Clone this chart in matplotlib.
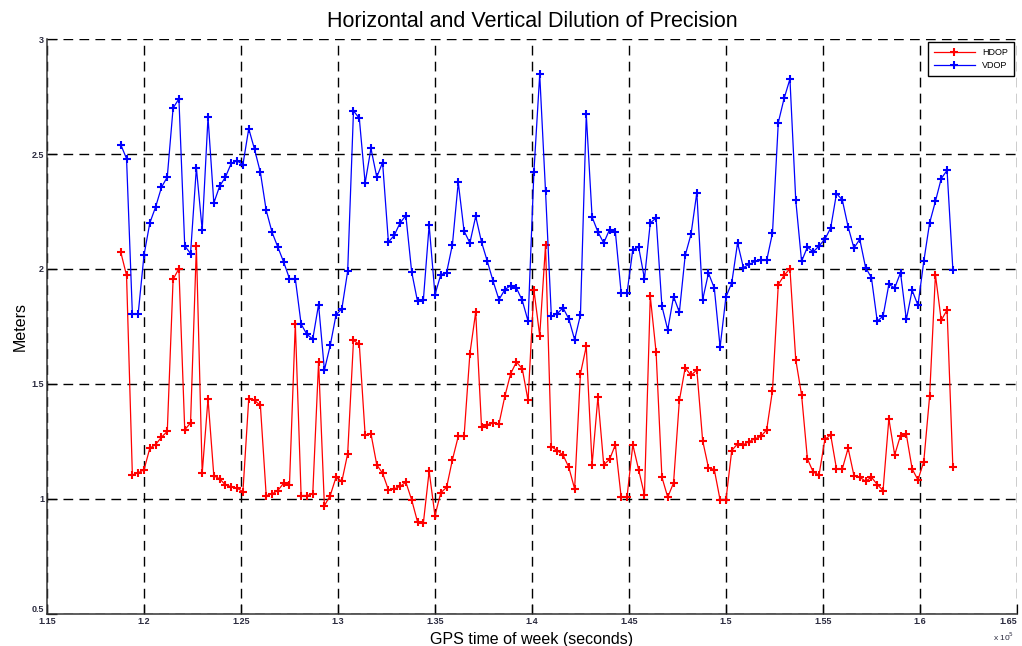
import matplotlib
matplotlib.use("Agg")
import matplotlib.pyplot as plt

plt.rcParams["font.family"] = ["Liberation Sans", "DejaVu Sans"]

# GPS time of week (s), one fix every 5 minutes
gps_time = [
    118800, 119100, 119400, 119700, 120000, 120300, 120600, 120900, 121200, 121500,
    121800, 122100, 122400, 122700, 123000, 123300, 123600, 123900, 124200, 124500,
    124800, 125100, 125400, 125700, 126000, 126300, 126600, 126900, 127200, 127500,
    127800, 128100, 128400, 128700, 129000, 129300, 129600, 129900, 130200, 130500,
    130800, 131100, 131400, 131700, 132000, 132300, 132600, 132900, 133200, 133500,
    133800, 134100, 134400, 134700, 135000, 135300, 135600, 135900, 136200, 136500,
    136800, 137100, 137400, 137700, 138000, 138300, 138600, 138900, 139200, 139500,
    139800, 140100, 140400, 140700, 141000, 141300, 141600, 141900, 142200, 142500,
    142800, 143100, 143400, 143700, 144000, 144300, 144600, 144900, 145200, 145500,
    145800, 146100, 146400, 146700, 147000, 147300, 147600, 147900, 148200, 148500,
    148800, 149100, 149400, 149700, 150000, 150300, 150600, 150900, 151200, 151500,
    151800, 152100, 152400, 152700, 153000, 153300, 153600, 153900, 154200, 154500,
    154800, 155100, 155400, 155700, 156000, 156300, 156600, 156900, 157200, 157500,
    157800, 158100, 158400, 158700, 159000, 159300, 159600, 159900, 160200, 160500,
    160800, 161100, 161400, 161700,
]

hdop = [
    2.074, 1.972, 1.104, 1.113, 1.126, 1.22, 1.236, 1.268, 1.293, 1.955,
    2.001, 1.30, 1.33, 2.098, 1.111, 1.435, 1.10, 1.087, 1.06, 1.053,
    1.046, 1.031, 1.435, 1.428, 1.406, 1.014, 1.021, 1.036, 1.068, 1.062,
    1.762, 1.014, 1.014, 1.021, 1.595, 0.97, 1.014, 1.094, 1.076, 1.196,
    1.689, 1.672, 1.278, 1.283, 1.148, 1.111, 1.039, 1.043, 1.054, 1.072,
    0.995, 0.90, 0.893, 1.12, 0.927, 1.026, 1.05, 1.17, 1.271, 1.271,
    1.631, 1.812, 1.314, 1.323, 1.329, 1.326, 1.445, 1.544, 1.595, 1.566,
    1.428, 1.91, 1.71, 2.103, 1.227, 1.21, 1.191, 1.137, 1.043, 1.544,
    1.663, 1.148, 1.442, 1.148, 1.171, 1.235, 1.007, 1.007, 1.235, 1.126,
    1.017, 1.881, 1.638, 1.094, 1.007, 1.069, 1.428, 1.57, 1.537, 1.561,
    1.253, 1.135, 1.127, 0.995, 0.995, 1.21, 1.239, 1.235, 1.249, 1.261,
    1.271, 1.30, 1.471, 1.932, 1.972, 2.001, 1.605, 1.452, 1.174, 1.116,
    1.104, 1.258, 1.278, 1.13, 1.13, 1.22, 1.101, 1.094, 1.076, 1.094,
    1.062, 1.036, 1.348, 1.191, 1.275, 1.28, 1.13, 1.082, 1.162, 1.445,
    1.975, 1.776, 1.822, 1.137,
]

vdop = [
    2.541, 2.48, 1.805, 1.805, 2.06, 2.20, 2.27, 2.355, 2.40, 2.70,
    2.74, 2.10, 2.067, 2.44, 2.17, 2.66, 2.287, 2.36, 2.40, 2.46,
    2.47, 2.454, 2.61, 2.52, 2.42, 2.255, 2.16, 2.095, 2.03, 1.958,
    1.958, 1.76, 1.715, 1.695, 1.845, 1.56, 1.667, 1.80, 1.827, 1.99,
    2.688, 2.655, 2.374, 2.524, 2.40, 2.463, 2.117, 2.146, 2.20, 2.232,
    1.987, 1.859, 1.863, 2.19, 1.888, 1.975, 1.984, 2.106, 2.377, 2.165,
    2.113, 2.229, 2.117, 2.033, 1.946, 1.866, 1.91, 1.927, 1.917, 1.863,
    1.773, 2.42, 2.846, 2.338, 1.794, 1.805, 1.831, 1.783, 1.692, 1.80,
    2.672, 2.226, 2.161, 2.113, 2.171, 2.161, 1.895, 1.895, 2.084, 2.095,
    1.958, 2.20, 2.222, 1.838, 1.735, 1.88, 1.812, 2.059, 2.151, 2.332,
    1.866, 1.982, 1.917, 1.66, 1.878, 1.939, 2.113, 2.006, 2.02, 2.033,
    2.037, 2.037, 2.156, 2.637, 2.742, 2.826, 2.299, 2.033, 2.095, 2.074,
    2.10, 2.129, 2.178, 2.328, 2.30, 2.183, 2.091, 2.129, 2.006, 1.962,
    1.773, 1.794, 1.933, 1.917, 1.984, 1.78, 1.907, 1.842, 2.033, 2.20,
    2.294, 2.393, 2.429, 1.997,
]

x_ticks = [115000, 120000, 125000, 130000, 135000, 140000, 145000,
           150000, 155000, 160000, 165000]
x_tick_labels = ["1.15", "1.2", "1.25", "1.3", "1.35", "1.4", "1.45",
                 "1.5", "1.55", "1.6", "1.65"]
y_ticks = [0.5, 1, 1.5, 2, 2.5, 3]
y_tick_labels = ["0.5", "1", "1.5", "2", "2.5", "3"]

fig = plt.figure(figsize=(10.22, 6.46), dpi=100)
ax = fig.add_axes([0.046, 0.05, 0.949, 0.8895])

ax.plot(gps_time, hdop, color="#ff0000", lw=0.9, marker="+", ms=5.5, mew=1.5,
        label="HDOP")
ax.plot(gps_time, vdop, color="#0000ff", lw=0.9, marker="+", ms=5.5, mew=1.5,
        label="VDOP")

ax.set_xlim(115000, 165000)
ax.set_ylim(0.5, 3)
ax.set_xticks(x_ticks)
ax.set_xticklabels(x_tick_labels)
ax.set_yticks(y_ticks)
ax.set_yticklabels(y_tick_labels)
ax.tick_params(direction="in", length=7, width=0.9, labelsize=6.5,
               labelcolor="#2b2b3f")
ax.tick_params(axis="x", pad=2.5)
ax.tick_params(axis="y", pad=2)
# last x label sits on the figure edge, as in the original
ax.get_xticklabels()[-1].set_horizontalalignment("right")
# the 0.5 label sits just above the corner so it clears 1.15
ax.get_yticklabels()[0].set_verticalalignment("bottom")
for lab in ax.get_xticklabels() + ax.get_yticklabels():
    lab.set_fontweight("bold")

ax.grid(True, color="black", linestyle=(0, (7, 4.5)), lw=1.0)
ax.set_axisbelow(True)
for s in ["top", "right"]:
    ax.spines[s].set_visible(False)
for s in ["left", "bottom"]:
    ax.spines[s].set_linewidth(1.1)
    ax.spines[s].set_color("#333333")

ax.set_title("Horizontal and Vertical Dilution of Precision", fontsize=15.5, pad=9)
ax.set_xlabel("GPS time of week (seconds)", fontsize=11.5, labelpad=4)
ax.set_ylabel("Meters", fontsize=11.5, labelpad=3)
fig.text(0.972, 0.007, r"x 10$^5$", fontsize=6, color="#2b2b3f")

leg = ax.legend(loc="upper right", fontsize=6.5, fancybox=False, framealpha=1,
                edgecolor="black", borderaxespad=0.3, handlelength=4.5,
                borderpad=0.7, labelspacing=0.4)
leg.get_frame().set_linewidth(1.0)

fig.savefig("out.png", dpi=100)
